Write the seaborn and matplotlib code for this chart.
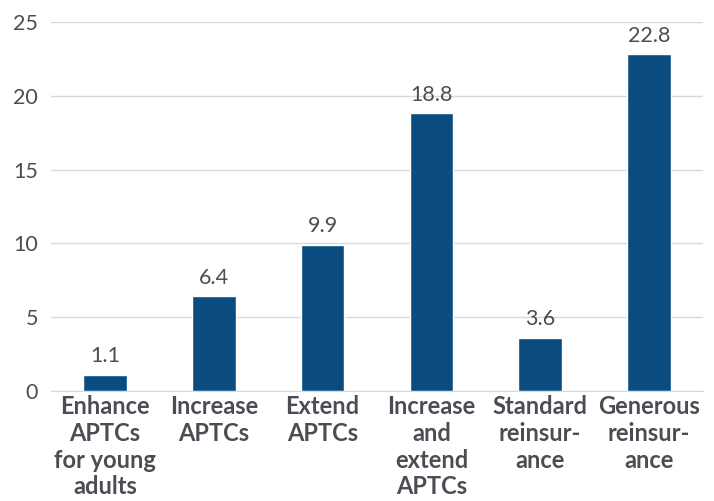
import pandas as pd
import seaborn as sns
import matplotlib.pyplot as plt

# Chart data
categories = ["Enhance\nAPTCs\nfor young\nadults", "Increase\nAPTCs", "Extend\nAPTCs",
              "Increase\nand\nextend\nAPTCs", "Standard\nreinsur-\nance", "Generous\nreinsur-\nance"]
values = [1.1, 6.4, 9.9, 18.8, 3.6, 22.8]
y_ticks = [0, 5, 10, 15, 20, 25]

df = pd.DataFrame({"policy": categories, "value": values})

sns.set_style("white")
plt.rcParams["font.family"] = ["Lato", "DejaVu Sans"]
text_color = "#4a4e54"

fig = plt.figure(figsize=(7.14, 5.01), dpi=100)
ax = fig.add_axes([0.071, 0.22, 0.914, 0.736])

sns.barplot(data=df, x="policy", y="value", color="#0b4c80", width=0.4,
            saturation=1, ax=ax)

ax.bar_label(ax.containers[0], fmt="%.1f", padding=6, fontsize=15.5, color=text_color)

ax.set_ylim(0, 25)
ax.set_yticks(y_ticks)
ax.yaxis.grid(True, color="#d9d9d9", linewidth=1)
ax.set_axisbelow(True)
for s in ["top", "right", "left"]:
    ax.spines[s].set_visible(False)
ax.spines["bottom"].set_color("#d9d9d9")
ax.tick_params(axis="y", length=0, labelsize=15.5, labelcolor=text_color, pad=9)
ax.tick_params(axis="x", length=0, pad=3)
for lbl in ax.get_xticklabels():
    lbl.set_fontsize(17)
    lbl.set_fontweight("bold")
    lbl.set_color(text_color)
    lbl.set_linespacing(1.2)
ax.set_xlabel("")
ax.set_ylabel("")

fig.savefig("out.png", dpi=100)
